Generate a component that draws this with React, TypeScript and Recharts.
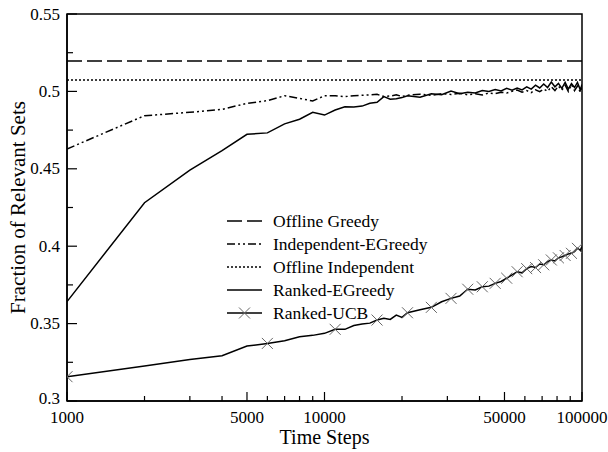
import React from "react";
import { LineChart, Line, XAxis, YAxis, Legend, ReferenceArea } from "recharts";

// time steps (log axis)
const steps = [
  1000, 2000, 3000, 4000, 5000, 6000, 7000, 8000, 9000, 10000,
  11000, 12000, 13000, 14000, 15000, 16000, 17000, 18000, 19000, 20000,
  21000, 23500, 26000, 28500, 31000, 33500, 36000, 38500, 41000, 43500,
  46000, 48500, 51000, 53500, 56000, 58500, 61000, 63500, 66000, 68500,
  71000, 73500, 76000, 78500, 81000, 83500, 86000, 88500, 91000, 93500,
  96000, 98500, 100000,
];

const offlineGreedy = 0.5196;
const offlineIndependent = 0.5074;

const independentEGreedy = [
  0.4628, 0.4843, 0.4865, 0.4884, 0.4923, 0.494, 0.4972, 0.4955, 0.4938, 0.4972,
  0.4972, 0.4966, 0.4972, 0.4975, 0.4977, 0.4981, 0.4967, 0.497, 0.4978, 0.4967,
  0.4975, 0.4982, 0.4975, 0.4985, 0.498, 0.4988, 0.4978, 0.4985, 0.4977, 0.499,
  0.4985, 0.4995, 0.499, 0.5, 0.5009, 0.4995, 0.5005, 0.4992, 0.501, 0.4998,
  0.5015, 0.5, 0.503, 0.5005, 0.5035, 0.5008, 0.504, 0.5, 0.5045, 0.5005,
  0.5035, 0.4995, 0.503,
];

const rankedEGreedy = [
  0.3642, 0.4281, 0.4492, 0.4617, 0.4723, 0.4732, 0.479, 0.482, 0.4865, 0.4847,
  0.488, 0.4901, 0.49, 0.4905, 0.4923, 0.493, 0.4966, 0.495, 0.4952, 0.496,
  0.4972, 0.4962, 0.4985, 0.4978, 0.5003, 0.4985, 0.4995, 0.499, 0.5005, 0.5,
  0.5012, 0.5003, 0.502, 0.5008, 0.5022, 0.501, 0.503, 0.5015, 0.504, 0.5022,
  0.5048, 0.5025, 0.506, 0.503, 0.5052, 0.502, 0.5058, 0.5015, 0.505, 0.5025,
  0.5058, 0.501, 0.5045,
];

const rankedUCB = [
  0.3157, 0.3226, 0.3268, 0.3293, 0.3355, 0.3372, 0.3389, 0.3415, 0.3424, 0.3437,
  0.3463, 0.3463, 0.3488, 0.3497, 0.3503, 0.3523, 0.3534, 0.3527, 0.3555, 0.354,
  0.357, 0.359, 0.3605, 0.3641, 0.3663, 0.3678, 0.3722, 0.3717, 0.3738, 0.3742,
  0.376, 0.3772, 0.3793, 0.3815, 0.3835, 0.3828, 0.3855, 0.3868, 0.3862, 0.3885,
  0.388, 0.39, 0.3911, 0.3905, 0.3925, 0.3932, 0.394, 0.395, 0.3954, 0.3965,
  0.3986, 0.3975, 0.3997,
];

// where the X markers sit on Ranked-UCB
const ucbMarkers = [
  1000, 6000, 11000, 16000, 21000, 26000, 31000, 36000, 41000, 46000,
  51000, 56000, 61000, 66000, 71000, 76000, 81000, 86000, 91000, 96000,
];

const xTicks = [
  1000, 2000, 3000, 4000, 5000, 6000, 7000, 8000, 9000,
  10000, 20000, 30000, 40000, 50000, 60000, 70000, 80000, 90000, 100000,
];
const xMajor = [1000, 5000, 10000, 50000, 100000];

const yTicks = [0.3, 0.325, 0.35, 0.375, 0.4, 0.425, 0.45, 0.475, 0.5, 0.525, 0.55];
const yLabels: Record<string, string> = {
  "0.3": "0.3", "0.35": "0.35", "0.4": "0.4", "0.45": "0.45", "0.5": "0.5", "0.55": "0.55",
};

const legendItems = [
  { name: "Offline Greedy", dash: "15 5", marker: false },
  { name: "Independent-EGreedy", dash: "8 3 2 3 2 3", marker: false },
  { name: "Offline Independent", dash: "2 2", marker: false },
  { name: "Ranked-EGreedy", dash: undefined, marker: false },
  { name: "Ranked-UCB", dash: undefined, marker: true },
];

const data = steps.map((t, i) => ({
  t,
  og: offlineGreedy,
  oi: offlineIndependent,
  ieg: independentEGreedy[i],
  reg: rankedEGreedy[i],
  ucb: rankedUCB[i],
}));

const FONT = "'Liberation Serif', 'Times New Roman', serif";

function Cross({ cx, cy, r = 5.5 }: { cx: number; cy: number; r?: number }) {
  return (
    <g stroke="#666" strokeWidth={1}>
      <line x1={cx - r} y1={cy - r} x2={cx + r} y2={cy + r} />
      <line x1={cx - r} y1={cy + r} x2={cx + r} y2={cy - r} />
    </g>
  );
}

function XTick(props: any) {
  const { x, y, payload } = props;
  const major = xMajor.includes(payload.value);
  return (
    <g>
      <line x1={x} x2={x} y1={y} y2={y - (major ? 9 : 5)} stroke="#000" strokeWidth={1.2} />
      {major && (
        <text x={x} y={y + 21.5} textAnchor="middle" fontFamily={FONT} fontSize={17} fill="#000">
          {payload.value}
        </text>
      )}
    </g>
  );
}

function YTick(props: any) {
  const { x, y, payload } = props;
  const label = yLabels[String(payload.value)];
  // bottom label sits a touch higher so it clears the "1000" below it
  const dy = payload.value === 0.3 ? -3 : 0;
  return (
    <g>
      <line x1={x} x2={x + (label ? 10 : 6)} y1={y} y2={y} stroke="#000" strokeWidth={1.2} />
      {label && (
        <text x={x - 7} y={y + dy} dy="0.33em" textAnchor="end" fontFamily={FONT} fontSize={17} fill="#000">
          {label}
        </text>
      )}
    </g>
  );
}

function renderLegend() {
  return (
    <svg width={220} height={120} style={{ display: "block" }}>
      {legendItems.map((it, i) => {
        const cy = 13 + i * 23;
        return (
          <g key={it.name}>
            <line x1={7} x2={42} y1={cy} y2={cy} stroke="#000" strokeWidth={1.5} strokeDasharray={it.dash} />
            {it.marker && <Cross cx={24.5} cy={cy} />}
            <text x={53} y={cy} dy="0.35em" fontFamily={FONT} fontSize={17.5} fill="#000">
              {it.name}
            </text>
          </g>
        );
      })}
    </svg>
  );
}

function ucbDot(p: any) {
  if (!ucbMarkers.includes(p.payload.t)) return <g key={`u${p.index}`} />;
  return (
    <g key={`u${p.index}`}>
      <Cross cx={p.cx} cy={p.cy} />
    </g>
  );
}

export default function App() {
  return (
    <div style={{ position: "absolute", left: 0, top: 0, width: 608, height: 452, background: "#fff" }}>
      <LineChart width={608} height={452} data={data} margin={{ top: 14, right: 26, bottom: 0, left: 0 }}>
        <XAxis
          dataKey="t"
          type="number"
          scale="log"
          domain={[1000, 100000]}
          allowDataOverflow
          ticks={xTicks}
          interval={0}
          height={51}
          tickSize={0}
          tickMargin={0}
          tickLine={false}
          tick={<XTick />}
          axisLine={{ stroke: "#000", strokeWidth: 1.5 }}
          label={{
            content: (lp: any) => {
              const vb = lp.viewBox;
              return (
                <text x={vb.x + vb.width / 2} y={vb.y + 43} textAnchor="middle" fontFamily={FONT} fontSize={20} fill="#000">
                  Time Steps
                </text>
              );
            },
          }}
        />
        <YAxis
          type="number"
          domain={[0.3, 0.55]}
          ticks={yTicks}
          interval={0}
          width={67}
          tickSize={0}
          tickMargin={0}
          tickLine={false}
          tick={<YTick />}
          axisLine={{ stroke: "#000", strokeWidth: 1.5 }}
          label={{
            content: (lp: any) => {
              const vb = lp.viewBox;
              const cx = vb.x + 25;
              const cy = vb.y + vb.height / 2;
              return (
                <text x={cx} y={cy} transform={`rotate(-90 ${cx} ${cy})`} textAnchor="middle" fontFamily={FONT} fontSize={21} fill="#000">
                  Fraction of Relevant Sets
                </text>
              );
            },
          }}
        />
        <ReferenceArea x1={1000} x2={100000} y1={0.3} y2={0.55} fill="none" stroke="#000" strokeWidth={1.5} ifOverflow="visible" />
        <Line dataKey="og" stroke="#000" strokeWidth={1.5} strokeDasharray="15 5" dot={false} isAnimationActive={false} />
        <Line dataKey="oi" stroke="#000" strokeWidth={1.5} strokeDasharray="2 2" dot={false} isAnimationActive={false} />
        <Line dataKey="ieg" stroke="#000" strokeWidth={1.5} strokeDasharray="8 3 2 3 2 3" dot={false} isAnimationActive={false} />
        <Line dataKey="reg" stroke="#000" strokeWidth={1.5} dot={false} isAnimationActive={false} />
        <Line dataKey="ucb" stroke="#000" strokeWidth={1.5} dot={ucbDot} isAnimationActive={false} />
        <Legend
          layout="vertical"
          align="center"
          verticalAlign="middle"
          content={renderLegend}
          wrapperStyle={{ left: 220, top: 208, width: 220, height: 120 }}
        />
      </LineChart>
    </div>
  );
}
